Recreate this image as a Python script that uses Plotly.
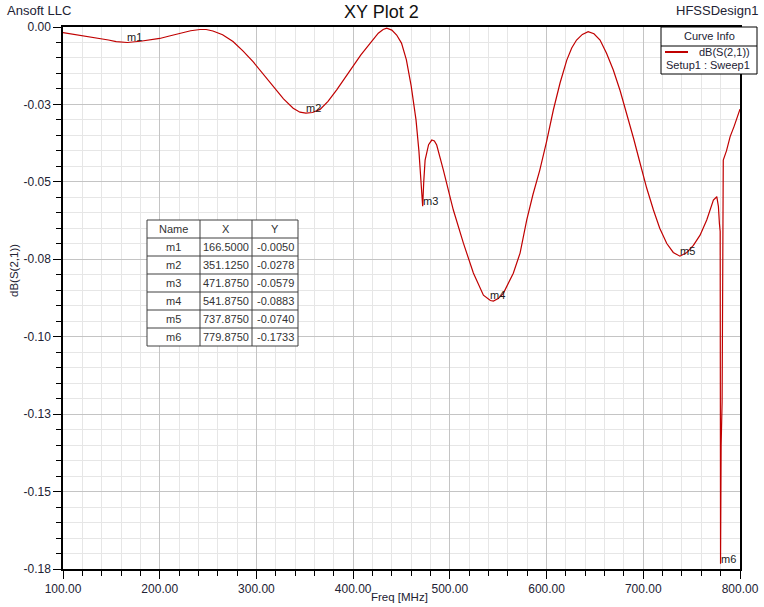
import plotly.graph_objects as go

# ---------------- data ----------------
freq_mhz = [100, 115, 131, 147, 155, 166.5, 180, 190, 200, 210, 221, 232, 241.7, 248, 255, 265,
            275.8, 286, 296.5, 307, 317, 328, 338, 345, 351.125, 358, 365.8, 374, 383, 391, 400,
            408, 417.5, 426, 431, 434.7, 440, 445, 450, 455, 460, 465, 468, 470, 471.875, 473,
            474.4, 478, 481.3, 484, 486.4, 493.3, 503.6, 514, 524.3, 534.7, 541.875, 545, 550,
            555.3, 560, 565.6, 572.6, 579.5, 586, 593, 600, 607, 614, 620.9, 626, 631, 637, 643,
            649, 655.3, 662, 669, 676, 683, 690, 696.7, 703.5, 710.5, 717, 724.3, 731, 737.875,
            745, 751.8, 758.7, 765.6, 772.5, 776, 777.7, 778.7, 779.5, 779.875, 780.5, 781.5,
            782.3, 782.7, 786, 789.8, 794, 798.2, 800]
s21_db = [-0.0018, -0.0025, -0.0033, -0.0042, -0.0047, -0.0050, -0.0046, -0.0042, -0.0037, -0.0029,
          -0.0020, -0.0012, -0.0008, -0.0008, -0.0013, -0.0025, -0.0047, -0.0077, -0.0112, -0.0152,
          -0.0193, -0.0232, -0.0262, -0.0275, -0.0278, -0.0276, -0.0266, -0.0240, -0.0203, -0.0166,
          -0.0128, -0.0090, -0.0053, -0.0020, -0.0008, -0.0004, -0.0010, -0.0026, -0.0052, -0.0105,
          -0.0190, -0.0300, -0.0400, -0.0500, -0.0579, -0.0500, -0.0430, -0.0380, -0.0365, -0.0368,
          -0.0381, -0.0462, -0.0591, -0.0698, -0.0794, -0.0866, -0.0883, -0.0885, -0.0877, -0.0860,
          -0.0830, -0.0795, -0.0730, -0.0623, -0.0540, -0.0462, -0.0370, -0.0268, -0.0180, -0.0107,
          -0.0068, -0.0042, -0.0024, -0.0015, -0.0022, -0.0042, -0.0085, -0.0139, -0.0205, -0.0279,
          -0.0360, -0.0440, -0.0520, -0.0591, -0.0650, -0.0699, -0.0728, -0.0740, -0.0728, -0.0705,
          -0.0672, -0.0623, -0.0559, -0.0548, -0.0580, -0.0634, -0.0660, -0.1733, -0.1350, -0.1210,
          -0.0460, -0.0430, -0.0400, -0.0354, -0.0320, -0.0279, -0.0265]

marker_names = ["m1", "m2", "m3", "m4", "m5", "m6"]
marker_x = [166.5, 351.125, 471.875, 541.875, 737.875, 779.875]
marker_y = [-0.0050, -0.0278, -0.0579, -0.0883, -0.0740, -0.1733]

x_tick_vals = [100, 200, 300, 400, 500, 600, 700, 800]
x_tick_text = ["100.00", "200.00", "300.00", "400.00", "500.00", "600.00", "700.00", "800.00"]
y_tick_vals = [0, -0.025, -0.05, -0.075, -0.1, -0.125, -0.15, -0.175]
y_tick_text = ["0.00", "-0.03", "-0.05", "-0.08", "-0.10", "-0.13", "-0.15", "-0.18"]

title_text = "XY Plot 2"
curve_name = "dB(S(2,1))"
sweep_name = "Setup1 : Sweep1"

# ---------------- layout helpers ----------------
W, H = 764, 607
L, R, T, B = 63, 740, 27, 569
FONT = "Liberation Sans, Arial, sans-serif"
RED = "#c00000"
TXT = "#222233"


def px(xp):
    return (xp - L) / (R - L)


def py(yp):
    return (B - yp) / (B - T)


fig = go.Figure()
fig.add_trace(go.Scatter(x=freq_mhz, y=s21_db, mode="lines",
                         line=dict(color=RED, width=1.2), showlegend=False,
                         hoverinfo="x+y"))

annotations = []
shapes = []

# marker labels on curve
for n, mx, my in zip(marker_names, marker_x, marker_y):
    annotations.append(dict(x=mx, y=my, xref="x", yref="y", text=n, showarrow=False,
                            xanchor="left", yanchor="middle", xshift=-2, yshift=5,
                            font=dict(family=FONT, size=11, color="#202020")))

# header texts
annotations.append(dict(x=px(381), y=py(12), xref="paper", yref="paper", text=title_text,
                        showarrow=False, xanchor="center", yanchor="middle",
                        font=dict(family=FONT, size=18, color="#111111")))
annotations.append(dict(x=px(5), y=py(10), xref="paper", yref="paper", text="Ansoft LLC",
                        showarrow=False, xanchor="left", yanchor="middle",
                        font=dict(family=FONT, size=13, color=TXT)))
annotations.append(dict(x=px(760), y=py(10), xref="paper", yref="paper", text="HFSSDesign1",
                        showarrow=False, xanchor="right", yanchor="middle",
                        font=dict(family=FONT, size=13, color=TXT)))
# axis titles
annotations.append(dict(x=px(399), y=py(597), xref="paper", yref="paper", text="Freq [MHz]",
                        showarrow=False, xanchor="center", yanchor="middle",
                        font=dict(family=FONT, size=11.5, color=TXT)))
annotations.append(dict(x=px(14), y=py(271), xref="paper", yref="paper", text=curve_name,
                        showarrow=False, xanchor="center", yanchor="middle", textangle=-90,
                        font=dict(family=FONT, size=11.5, color=TXT)))

# legend box (Curve Info)
lx0, lx1, ly0, ly1 = 661, 757, 27, 74
shapes.append(dict(type="rect", xref="paper", yref="paper", x0=px(lx0), x1=px(lx1),
                   y0=py(ly1), y1=py(ly0), fillcolor="white", line=dict(color="black", width=1),
                   layer="above"))
shapes.append(dict(type="line", xref="paper", yref="paper", x0=px(lx0), x1=px(lx1),
                   y0=py(46), y1=py(46), line=dict(color="black", width=1), layer="above"))
shapes.append(dict(type="line", xref="paper", yref="paper", x0=px(665), x1=px(688),
                   y0=py(52), y1=py(52), line=dict(color=RED, width=2), layer="above"))
annotations.append(dict(x=px(709), y=py(36), xref="paper", yref="paper", text="Curve Info",
                        showarrow=False, xanchor="center", yanchor="middle",
                        font=dict(family=FONT, size=11, color=TXT)))
annotations.append(dict(x=px(752), y=py(52), xref="paper", yref="paper", text=curve_name,
                        showarrow=False, xanchor="right", yanchor="middle",
                        font=dict(family=FONT, size=11, color=TXT)))
annotations.append(dict(x=px(708), y=py(65), xref="paper", yref="paper", text=sweep_name,
                        showarrow=False, xanchor="center", yanchor="middle",
                        font=dict(family=FONT, size=11, color=TXT)))

# marker table
tx0, tx1, ty0 = 147, 298, 220
col_edges = [147, 200, 252, 298]
row_h = 18
n_rows = len(marker_names) + 1
ty1 = ty0 + row_h * n_rows
shapes.append(dict(type="rect", xref="paper", yref="paper", x0=px(tx0), x1=px(tx1),
                   y0=py(ty1), y1=py(ty0), fillcolor="white", line=dict(color="#404040", width=1),
                   layer="above"))
for ce in col_edges[1:-1]:
    shapes.append(dict(type="line", xref="paper", yref="paper", x0=px(ce), x1=px(ce),
                       y0=py(ty1), y1=py(ty0), line=dict(color="#404040", width=1), layer="above"))
for r in range(1, n_rows):
    yy = ty0 + r * row_h
    shapes.append(dict(type="line", xref="paper", yref="paper", x0=px(tx0), x1=px(tx1),
                       y0=py(yy), y1=py(yy), line=dict(color="#404040", width=1), layer="above"))

rows = [["Name", "X", "Y"]] + [[n, f"{mx:.4f}", f"{my:.4f}"]
                                for n, mx, my in zip(marker_names, marker_x, marker_y)]
for r, row in enumerate(rows):
    yc = ty0 + r * row_h + row_h / 2
    for c, txt in enumerate(row):
        xc = (col_edges[c] + col_edges[c + 1]) / 2
        annotations.append(dict(x=px(xc), y=py(yc), xref="paper", yref="paper", text=txt,
                                showarrow=False, xanchor="center", yanchor="middle",
                                font=dict(family=FONT, size=11, color="#333333")))

axis_common = dict(showline=True, linecolor="black", linewidth=1.5, mirror=True,
                   ticks="outside", tickcolor="black", ticklen=8, tickwidth=1,
                   showgrid=True, gridcolor="#c4c4c4", gridwidth=1, zeroline=False,
                   automargin=False,
                   tickfont=dict(family=FONT, size=12, color=TXT))

fig.update_layout(
    width=W, height=H,
    margin=dict(l=L, r=W - R, t=T, b=H - B, pad=0),
    paper_bgcolor="white", plot_bgcolor="white",
    xaxis=dict(range=[100, 800], tickmode="array", tickvals=x_tick_vals, ticktext=x_tick_text,
               minor=dict(dtick=20, tick0=100, ticks="outside", ticklen=5, tickcolor="black",
                          showgrid=True, gridcolor="#e6e6e6", gridwidth=1),
               **axis_common),
    yaxis=dict(range=[-0.175, 0], tickmode="array", tickvals=y_tick_vals, ticktext=y_tick_text,
               minor=dict(dtick=0.005, tick0=0, ticks="outside", ticklen=5, tickcolor="black",
                          showgrid=True, gridcolor="#e6e6e6", gridwidth=1),
               **axis_common),
    annotations=annotations,
    shapes=shapes,
    showlegend=False,
)

fig.write_html("out.html", config={"displayModeBar": False},
               post_script="document.body.style.margin='0';document.body.style.overflow='hidden';")
